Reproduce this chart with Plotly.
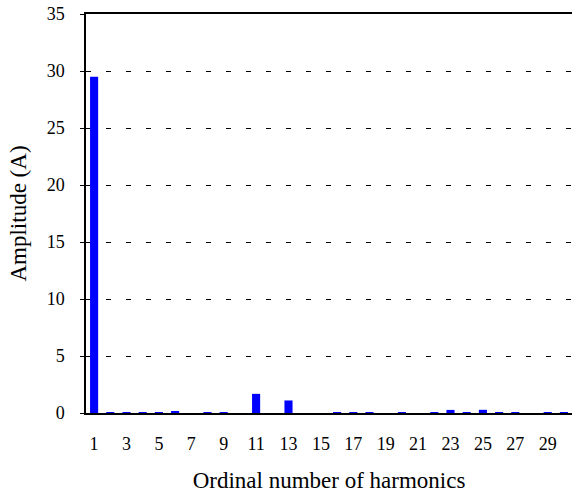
import plotly.graph_objects as go

harmonics = list(range(1, 31))
amplitude = [29.5, 0.05, 0.05, 0.05, 0.05, 0.17, 0.0, 0.05, 0.05, 0.0,
             1.68, 0.0, 1.1, 0.0, 0.0, 0.05, 0.05, 0.05, 0.0, 0.05,
             0.0, 0.05, 0.27, 0.05, 0.28, 0.05, 0.05, 0.0, 0.05, 0.05]
tick_vals = list(range(1, 30, 2))
y_ticks = [0, 5, 10, 15, 20, 25, 30, 35]

fig = go.Figure(go.Bar(x=harmonics, y=amplitude, marker_color="#0000FF",
                       marker_line_width=0, width=0.5))

font = dict(family="'Times New Roman', 'Liberation Serif', Times, serif", color="black")
fig.update_layout(
    width=572, height=495,
    margin=dict(l=86, r=0, t=14, b=82),
    plot_bgcolor="white", paper_bgcolor="white",
    font=dict(size=18, **font),
    showlegend=False,
)
fig.update_xaxes(
    range=[0.5, 30.5], tickvals=tick_vals, ticktext=[str(v) for v in tick_vals],
    showline=True, linecolor="black", linewidth=1.5, mirror=True,
    showgrid=False, ticks="", tickfont=dict(size=18, **font),
    ticklabelstandoff=14,
    title=dict(text="Ordinal number of harmonics", font=dict(size=23, **font), standoff=19),
)
fig.update_yaxes(
    range=[0, 35], tickvals=y_ticks,
    showline=True, linecolor="black", linewidth=1.5,
    showgrid=True, gridcolor="black", gridwidth=1, griddash="5px,15px",
    zeroline=False, ticks="outside", ticklen=4, tickcolor="black",
    tickfont=dict(size=18, **font), ticklabelstandoff=12,
    title=dict(text="Amplitude (A)", font=dict(size=23, **font), standoff=14),
)
fig.write_html("out.html")
